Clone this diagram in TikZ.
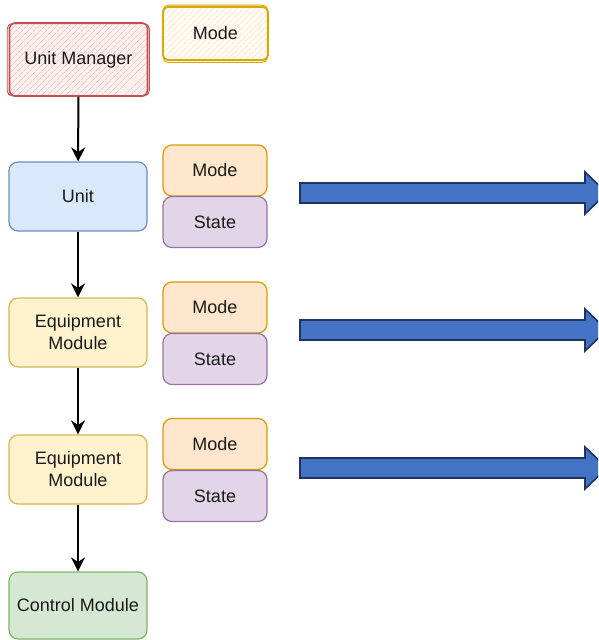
\documentclass[tikz,border=0pt]{standalone}
\usepackage{fontspec}
\setmainfont{Liberation Sans}
\usetikzlibrary{patterns.meta,arrows.meta}
\definecolor{umstroke}{HTML}{C0504D}
\definecolor{umhatch}{HTML}{F2AFAD}
\definecolor{umfill}{HTML}{FDF1F0}
\definecolor{mgold}{HTML}{D6A800}
\definecolor{mhatch}{HTML}{F7DDB0}
\definecolor{mfill}{HTML}{FFFBF3}
\definecolor{ufill}{HTML}{DAE8FC}\definecolor{ustroke}{HTML}{6C8EBF}
\definecolor{emfill}{HTML}{FFF2CC}\definecolor{emstroke}{HTML}{D6B656}
\definecolor{mofill}{HTML}{FFE6CC}\definecolor{mostroke}{HTML}{D79B00}
\definecolor{stfill}{HTML}{E1D5E7}\definecolor{ststroke}{HTML}{9673A6}
\definecolor{cmfill}{HTML}{D5E8D4}\definecolor{cmstroke}{HTML}{82B366}
\definecolor{bafill}{HTML}{4472C4}\definecolor{bastroke}{HTML}{1F3560}
\definecolor{txt}{HTML}{1A1A1A}
\tikzset{
  box/.style={rounded corners=9pt, line width=1.2pt, align=center, text=txt, font=\fontsize{18}{22}\selectfont, inner sep=0pt},
  modebox/.style={box, fill=mofill, draw=mostroke, minimum width=104pt, minimum height=51pt},
  statebox/.style={box, fill=stfill, draw=ststroke, minimum width=104pt, minimum height=51pt},
  flow/.style={line width=2pt, -{Stealth[length=14pt,width=14pt]}},
  blockarrow/.style={fill=bafill, draw=bastroke, line width=1.6pt, line join=miter},
}
\begin{document}
\begin{tikzpicture}[x=1pt,y=-1pt]
\useasboundingbox (0,0) rectangle (598,640);
\clip (0,0) rectangle (598,640);
% Unit Manager (sketchy)
\fill[umfill, rounded corners=5pt] (9,23) rectangle (148,96);
\node[box, pattern={Lines[angle=45,distance=4pt,line width=0.6pt]}, pattern color=umhatch, draw=umstroke, line width=1.6pt, minimum width=138pt, minimum height=73pt, rounded corners=5pt] (um) at (78.5,59.5) {Unit Manager};
\draw[umstroke, line width=0.9pt, rounded corners=5pt] ([xshift=-1.5pt,yshift=1pt]um.south west) rectangle ([xshift=1pt,yshift=-1.5pt]um.north east);
\fill[mfill, rounded corners=5pt] (163,7) rectangle (268,60);
\node[box, pattern={Lines[angle=45,distance=4pt,line width=0.6pt]}, pattern color=mhatch, draw=mgold, line width=1.8pt, minimum width=105pt, minimum height=53pt, rounded corners=5pt] (m0) at (215.5,33.5) {Mode};
\draw[mgold, line width=0.9pt, rounded corners=5pt] ([xshift=1pt,yshift=-1.5pt]m0.south west) rectangle ([xshift=-1.5pt,yshift=1pt]m0.north east);
% Unit
\node[box, fill=ufill, draw=ustroke, minimum width=138pt, minimum height=69pt] (u) at (78,196.5) {Unit};
\node[modebox] (m1) at (215,170.5) {Mode};
\node[statebox] (s1) at (215,222) {State};
% EM1
\node[box, fill=emfill, draw=emstroke, minimum width=138pt, minimum height=69pt] (e1) at (78,332.5) {Equipment\\Module};
\node[modebox] (m2) at (215,307.5) {Mode};
\node[statebox] (s2) at (215,359) {State};
% EM2
\node[box, fill=emfill, draw=emstroke, minimum width=138pt, minimum height=69pt] (e2) at (78,469.5) {Equipment\\Module};
\node[modebox] (m3) at (215,444) {Mode};
\node[statebox] (s3) at (215,496) {State};
% Control Module
\node[box, fill=cmfill, draw=cmstroke, minimum width=138pt, minimum height=67pt] (cm) at (78,605.5) {Control Module};
% flows
\draw[flow] (um) -- (u);
\draw[flow] (u) -- (e1);
\draw[flow] (e1) -- (e2);
\draw[flow] (e2) -- (cm);
% block arrows
\draw[blockarrow] (300,183) -- (585,183) -- (585,172) -- (607,193) -- (585,214) -- (585,203) -- (300,203) -- cycle;
\draw[blockarrow] (300,320) -- (585,320) -- (585,309) -- (607,330) -- (585,351) -- (585,340) -- (300,340) -- cycle;
\draw[blockarrow] (300,458) -- (585,458) -- (585,447) -- (607,468) -- (585,489) -- (585,478) -- (300,478) -- cycle;
\end{tikzpicture}
\end{document}
